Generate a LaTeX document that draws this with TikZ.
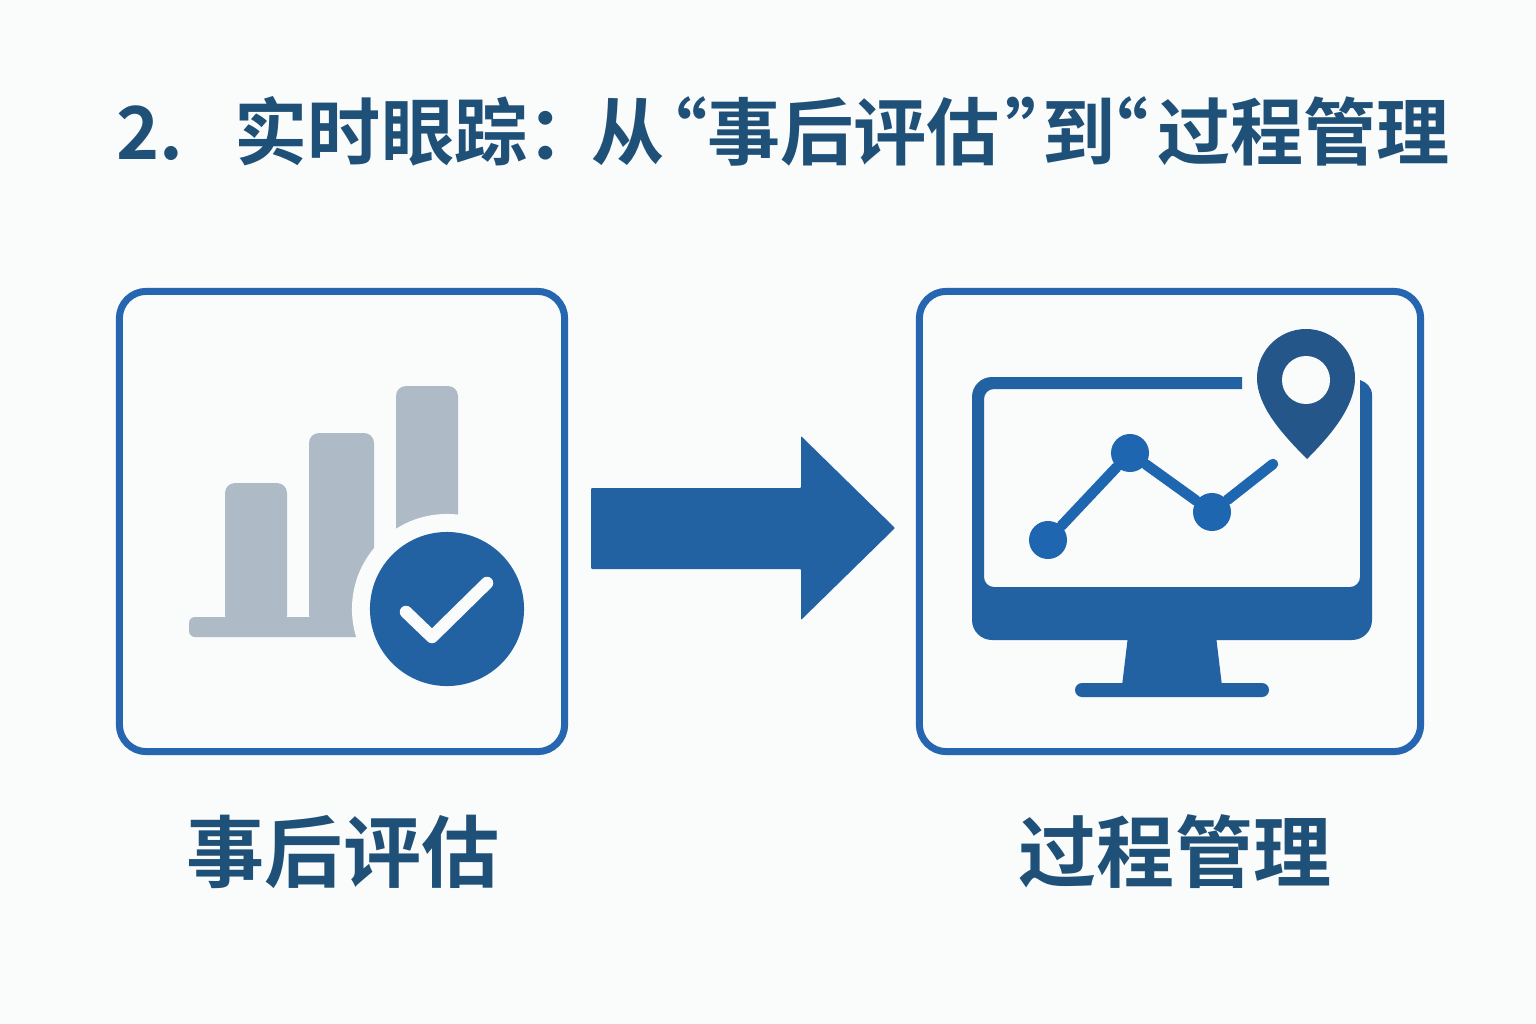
\documentclass[tikz,border=0pt]{standalone}
\usepackage{fontspec}
\newfontfamily\cjk[UprightFont=* Bold]{Noto Sans CJK SC}
\definecolor{pagebg}{HTML}{FAFBFB}
\definecolor{titleblue}{HTML}{1F5078}
\definecolor{boxblue}{HTML}{2666B0}
\definecolor{iconblue}{HTML}{2261A2}
\definecolor{lineblue}{HTML}{1F66B0}
\definecolor{pinblue}{HTML}{24568A}
\definecolor{bargray}{HTML}{AEBAC6}
\tikzset{
  panel/.style={draw=boxblue, line width=0.07cm, rounded corners=0.27cm, minimum height=4.6cm, inner sep=0pt},
  caption/.style={text=titleblue, font=\cjk\fontsize{22.2pt}{26pt}\selectfont, inner sep=0pt},
  dot/.style={circle, fill=lineblue, minimum size=0.38cm, inner sep=0pt},
  chartline/.style={draw=lineblue, line width=0.105cm}
}
\begin{document}
\begin{tikzpicture}[x=0.01cm, y=-0.01cm]

\fill [pagebg] (0,0) rectangle (1536,1024);
\useasboundingbox (0,0) rectangle (1536,1024);

\node [anchor=west, text=titleblue, font=\cjk\fontsize{20.8pt}{24pt}\selectfont, inner sep=0pt] (title) at (116,131)
  {2.\hspace{0.7em}实时眼踪：\hspace{-0.12em}从\hspace{-0.42em}“事后评估\hspace{0.07em}”\hspace{-0.49em}到\hspace{-0.55em}“\hspace{0.12em}过程管理};

\node [panel, minimum width=4.45cm] (evalbox) at (342,521.5) {};
\node [panel, minimum width=5.01cm] (procbox) at (1170,521.5) {};

% bars
\fill [bargray, rounded corners=0.1cm] (225,625) -- (225,483) -- (287,483) -- (287,625) -- cycle;
\fill [bargray, rounded corners=0.1cm] (309,625) -- (309,433) -- (374,433) -- (374,625) -- cycle;
\fill [bargray, rounded corners=0.1cm] (396,540) -- (396,386) -- (458,386) -- (458,540) -- cycle;
\fill [bargray, rounded corners=0.06cm] (189,617) rectangle (400,637);
\node [circle, fill=pagebg, minimum size=1.9cm, inner sep=0pt] (ring) at (447,609) {};
\node [circle, fill=iconblue, minimum size=1.54cm, inner sep=0pt] (badge) at (447,609) {};
\draw [pagebg, line width=0.125cm, line cap=round, line join=round] (406,612) -- (432,637) -- (487,583);

% arrow
\fill [iconblue, rounded corners=0.01cm] (591,488) -- (801,488) -- (801,436) -- (895,528) -- (801,620) -- (801,569) -- (591,569) -- cycle;

% monitor
\fill [iconblue] (1242,377) [rounded corners=0.2cm] -- (972,377) -- (972,640) -- (1372,640) [sharp corners] -- (1372,395)
  .. controls (1372,387) and (1366,382) .. (1360,380) [rounded corners=0.1cm] -- (1360,587) -- (984,587) -- (984,389) [sharp corners] -- (1242,389) -- cycle;
\fill [iconblue] (1128,636) -- (1216,636) -- (1222,686) -- (1122,686) -- cycle;
\fill [iconblue, rounded corners=0.07cm] (1075,683) rectangle (1269,697);

% chart
\node [dot] (p1) at (1048,540) {};
\node [dot] (p2) at (1130,453) {};
\node [dot] (p3) at (1212,512) {};
\coordinate (p4) at (1273,464);
\draw [chartline, line cap=round] (p1) -- (p2) -- (p3) -- (p4);

% pin
\fill [pinblue] (1257,378) .. controls (1257,351) and (1279,329) .. (1306,329)
  .. controls (1333,329) and (1355,351) .. (1355,378)
  .. controls (1355,405) and (1334,432) .. (1307,459)
  .. controls (1280,432) and (1257,405) .. (1257,378) -- cycle;
\node [circle, fill=pagebg, minimum size=0.48cm, inner sep=0pt] (hole) at (1306,380) {};

\node [caption] (evallabel) at (343,852) {事后评估};
\node [caption] (proclabel) at (1175,852) {过程管理};

\end{tikzpicture}
\end{document}
